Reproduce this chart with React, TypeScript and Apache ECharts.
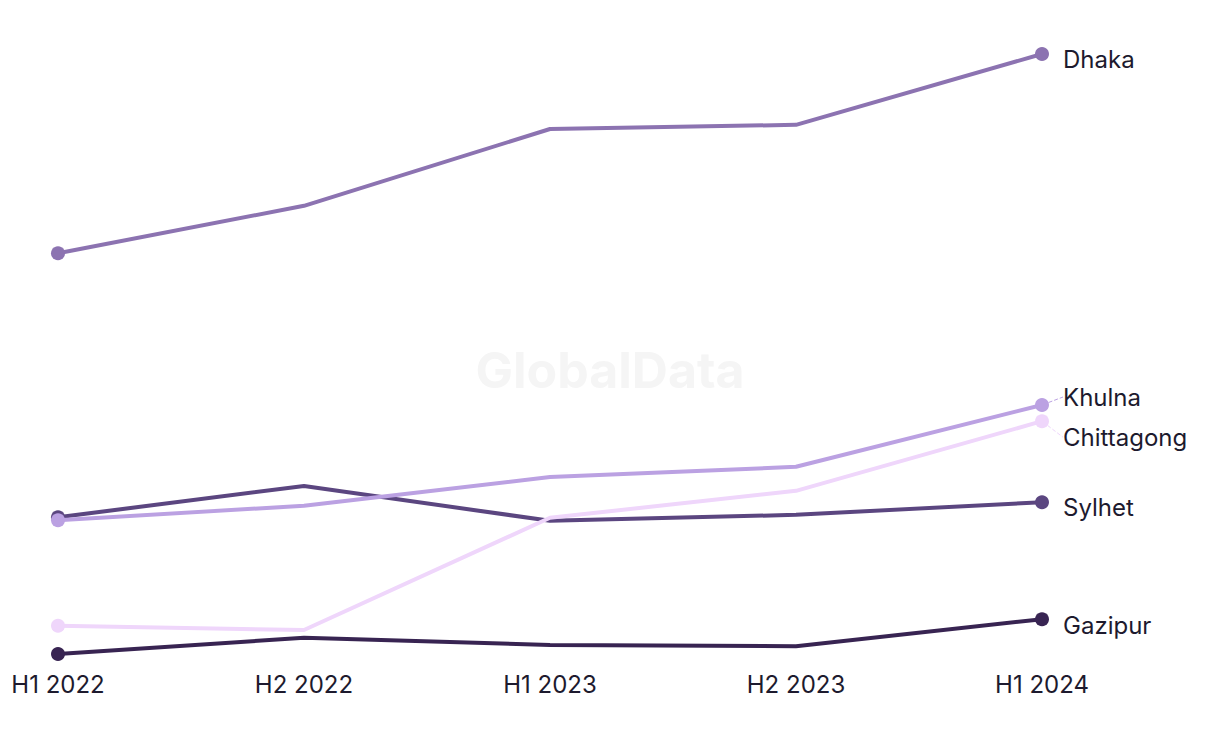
import React, { useEffect, useRef } from "react";
import * as echarts from "echarts";

const categories = ["H1 2022", "H2 2022", "H1 2023", "H2 2023", "H1 2024"];
const seriesNames = ["Dhaka", "Khulna", "Chittagong", "Sylhet", "Gazipur"];
const dhaka = [66.8, 74.7, 87.5, 88.2, 100];
const khulna = [22.3, 24.7, 29.5, 31.2, 41.5];
const chittagong = [4.7, 4.0, 22.7, 27.2, 38.8];
const sylhet = [22.8, 28.0, 22.2, 23.2, 25.3];
const gazipur = [0, 2.7, 1.5, 1.3, 5.8];
const colors = ["#8c73b1", "#bba1e2", "#efd6fb", "#5b4680", "#382452"];
const labelShift = [5, -8, 16, 5, 6];
const showConnector = [false, true, true, false, false];

export default function App() {
  const ref = useRef<HTMLDivElement>(null);
  useEffect(() => {
    if (!ref.current) return;
    const chart = echarts.init(ref.current, null, { renderer: "svg" });
    const data = [dhaka, khulna, chittagong, sylhet, gazipur];
    const font = "Inter, 'Noto Sans', sans-serif";
    chart.setOption({
      animation: false,
      backgroundColor: "#ffffff",
      graphic: [
        {
          type: "text",
          left: "center",
          top: 345,
          style: {
            text: "GlobalData",
            fontSize: 50,
            fontWeight: "bold",
            fontFamily: font,
            fill: "#f5f5f5",
          },
          z: 0,
        },
      ],
      grid: { left: 58, right: 178, top: 54, bottom: 90 },
      xAxis: {
        type: "category",
        data: categories,
        boundaryGap: false,
        axisLine: { show: false },
        axisTick: { show: false },
        splitLine: { show: false },
        axisLabel: {
          color: "#1d1a2e",
          fontSize: 24,
          fontFamily: font,
          margin: 18,
        },
      },
      yAxis: {
        type: "value",
        min: 0,
        max: 100,
        show: false,
      },
      series: seriesNames.map((name, i) => ({
        name,
        type: "line",
        data: data[i].map((v, j) => ({
          value: v,
          symbol: j === 0 || j === data[i].length - 1 ? "circle" : "none",
          label:
            j === data[i].length - 1
              ? {
                  show: true,
                  position: "right",
                  distance: 14,
                  formatter: name,
                  color: "#1d1a2e",
                  fontSize: 24,
                  fontFamily: font,
                }
              : { show: false },
        })),
        color: colors[i],
        symbolSize: 14,
        showSymbol: true,
        lineStyle: { width: 4, color: colors[i] },
        itemStyle: { color: colors[i] },
        labelLayout: () => ({ dy: labelShift[i] }),
        labelLine: {
          show: showConnector[i],
          lineStyle: { color: colors[i], type: "dashed", width: 1 },
        },
        z: 10 - i,
      })),
    });
    return () => chart.dispose();
  }, []);
  return (
    <div
      ref={ref}
      style={{ position: "fixed", left: 0, top: 0, width: 1220, height: 744 }}
    />
  );
}
